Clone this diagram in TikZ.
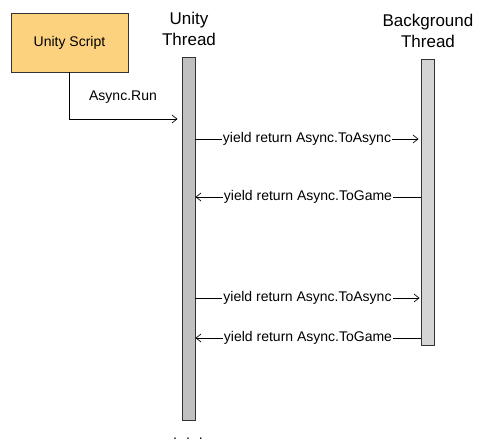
\documentclass[tikz,border=0pt]{standalone}
\usepackage{fontspec}
\setmainfont{Liberation Sans}
\usetikzlibrary{arrows.meta}
\definecolor{scriptfill}{HTML}{FDD27F}
\definecolor{utfill}{HTML}{C0C0C0}
\definecolor{bgfill}{HTML}{D4D4D4}
\begin{document}
\begin{tikzpicture}[x=1pt,y=-1pt,
  title/.style={font=\fontsize{17}{21}\selectfont, align=center, inner sep=0pt},
  lbl/.style={font=\fontsize{14}{16}\selectfont, inner sep=0pt},
  msglbl/.style={font=\fontsize{14}{16}\selectfont, fill=white, inner sep=1pt},
  bar/.style={draw=black!80, line width=0.9pt, minimum width=13pt, inner sep=0pt},
  msg/.style={line width=0.7pt, -{Straight Barb[length=5pt,width=8pt]}},
  boxstyle/.style={draw=black!80, line width=0.9pt, fill=scriptfill, minimum width=117pt, minimum height=59pt, inner sep=0pt, font=\fontsize{14}{16}\selectfont}]
\useasboundingbox (0,0) rectangle (480,447);
\node[boxstyle] (us) at (69.5,42.5) {Unity Script};
\node[title] (utl) at (189,29) {Unity\\Thread};
\node[title] (bgl) at (428,31) {Background\\Thread};
\node[bar, fill=utfill, minimum height=363pt] (ut) at (188.5,238.5) {};
\node[bar, fill=bgfill, minimum height=286pt] (bg) at (427.5,202) {};
\coordinate (runc) at (us.south |- 0,119);
\draw[msg] (us.south) -- (runc) -- ([xshift=-4pt]ut.west |- runc);
\node[lbl] (runl) at (123,97) {Async.Run};
\draw[msg] (ut.east |- 0,139) -- node[msglbl] (m1) {yield return Async.ToAsync} ([xshift=-2pt]bg.west |- 0,139);
\draw[msg] (bg.west |- 0,197) -- node[msglbl] (m2) {yield return Async.ToGame} (ut.east |- 0,197);
\draw[msg] (ut.east |- 0,298) -- node[msglbl] (m3) {yield return Async.ToAsync} ([xshift=-1pt]bg.west |- 0,298);
\draw[msg] (bg.west |- 0,338) -- node[msglbl] (m4) {yield return Async.ToGame} (ut.east |- 0,338);
\node[lbl, anchor=base] (dots) at (188,439) {.\hspace{9pt}.\hspace{9pt}.};
\end{tikzpicture}
\end{document}
